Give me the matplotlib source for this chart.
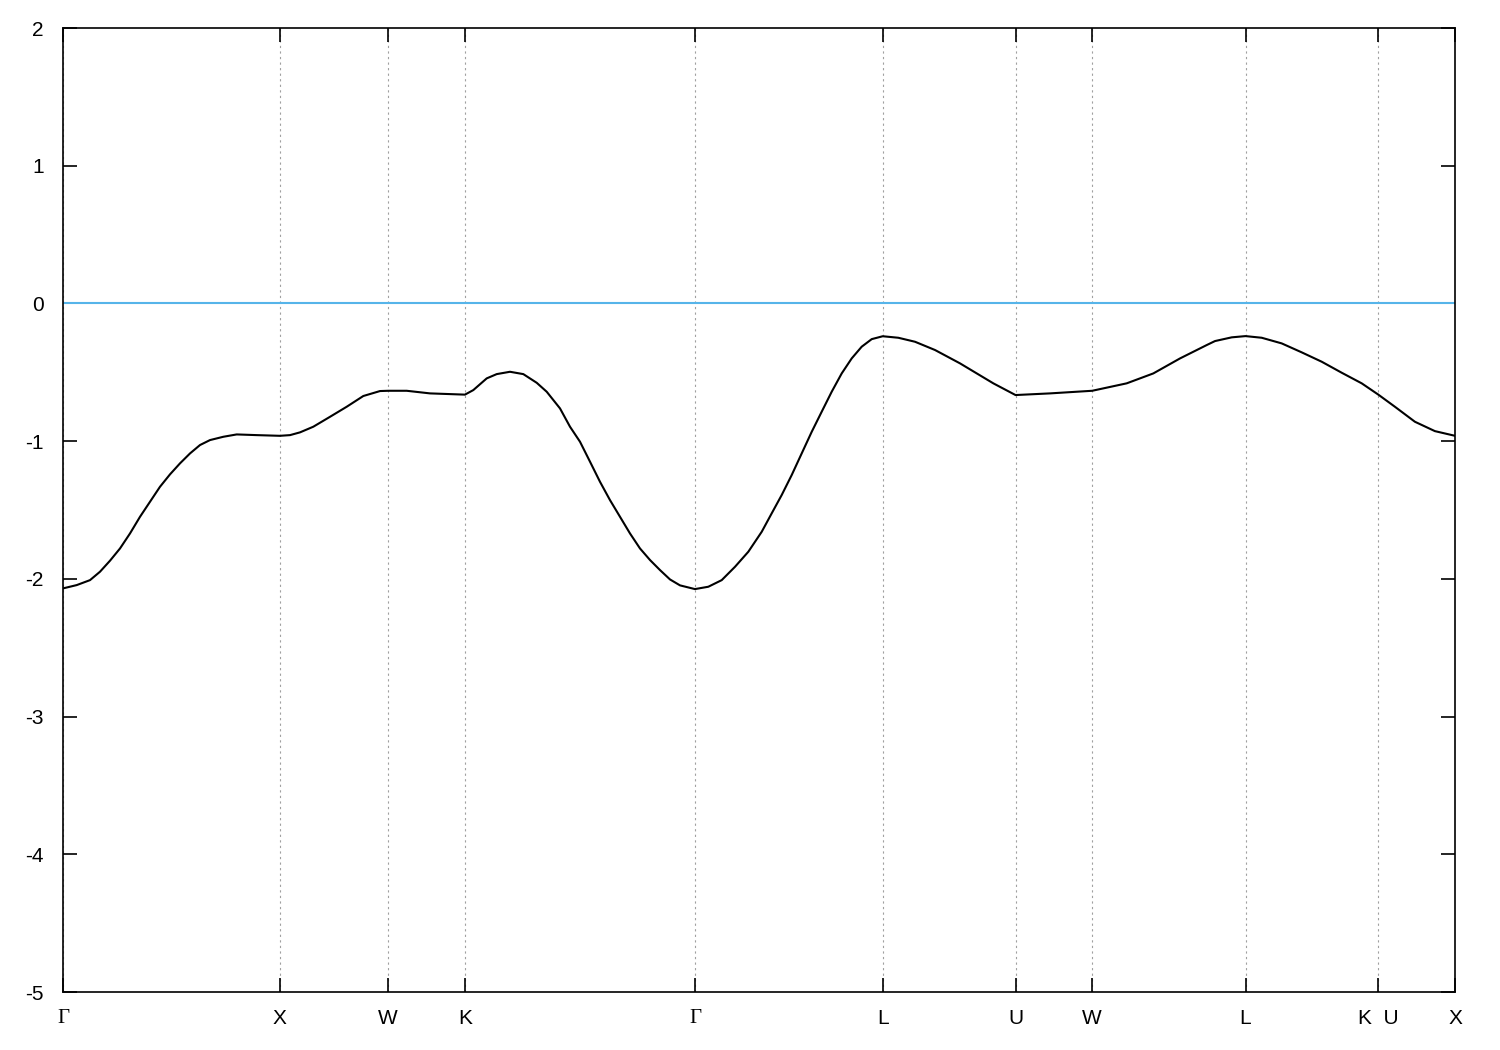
#!/usr/bin/env python3
# -*- coding: utf-8 -*-

import matplotlib
matplotlib.use('Agg')
import matplotlib.pyplot as plt

# -- DATA --
# high-symmetry points along the fcc path (path length units)
kpt_pos = [0.0, 1.0, 1.5, 1.8536, 2.9143, 3.7803, 4.3927,
           4.7463, 5.4534, 6.0658, 6.4194]
kpt_labels = ['Γ', 'X', 'W', 'K', 'Γ', 'L', 'U', 'W', 'L', 'K  U', 'X']

# band
k = [0.0, 0.0632, 0.1245, 0.1706, 0.2167, 0.2629, 0.309, 0.3551, 0.4012,
     0.4473, 0.4934, 0.5396, 0.5857, 0.6318, 0.6779, 0.7393, 0.801, 0.8933,
     1.0, 1.0469, 1.093, 1.1543, 1.2313, 1.3083, 1.3849, 1.4619, 1.5,
     1.585, 1.6925, 1.8536, 1.8922, 1.954, 2.0001, 2.0614, 2.1228, 2.1846,
     2.2307, 2.292, 2.3381, 2.3842, 2.4304, 2.4765, 2.5226, 2.5687, 2.6148,
     2.6609, 2.7071, 2.7532, 2.7993, 2.8454, 2.9143, 2.9759, 3.0377,
     3.0991, 3.1604, 3.2222, 3.2683, 3.3144, 3.3605, 3.4066, 3.4528,
     3.4989, 3.545, 3.5911, 3.6372, 3.6833, 3.7295, 3.7803, 3.8521, 3.9291,
     4.0214, 4.1367, 4.2903, 4.3927, 4.5517, 4.7463, 4.9054, 5.0281,
     5.1513, 5.2744, 5.3127, 5.3897, 5.4534, 5.528, 5.6203, 5.7125, 5.8047,
     5.897, 5.9892, 6.0658, 6.1423, 6.2346, 6.3268, 6.4194]
energy = [-2.069, -2.045, -2.009, -1.948, -1.868, -1.779, -1.670, -1.549,
          -1.440, -1.331, -1.241, -1.161, -1.089, -1.028, -0.992, -0.968,
          -0.951, -0.956, -0.961, -0.956, -0.936, -0.895, -0.823, -0.750,
          -0.672, -0.636, -0.634, -0.634, -0.653, -0.662, -0.629, -0.544,
          -0.513, -0.496, -0.513, -0.576, -0.641, -0.762, -0.895, -1.004,
          -1.149, -1.295, -1.428, -1.549, -1.670, -1.779, -1.863, -1.936,
          -2.004, -2.047, -2.074, -2.057, -2.009, -1.912, -1.803, -1.658,
          -1.524, -1.391, -1.246, -1.089, -0.932, -0.786, -0.641, -0.508,
          -0.399, -0.314, -0.259, -0.238, -0.249, -0.278, -0.338, -0.435,
          -0.580, -0.665, -0.653, -0.634, -0.580, -0.508, -0.399, -0.302,
          -0.273, -0.246, -0.237, -0.249, -0.290, -0.355, -0.423, -0.503,
          -0.580, -0.662, -0.750, -0.859, -0.927, -0.961]

fermi = 0.0
y_ticks = [-5, -4, -3, -2, -1, 0, 1, 2]

# -- PLOT --
plt.rcParams['font.family'] = ['Liberation Sans', 'DejaVu Sans']
plt.rcParams['axes.unicode_minus'] = False

fig = plt.figure(figsize=(15, 10.5), dpi=100)
ax = fig.add_axes([0.042, 0.0552, 0.928, 0.9181])

for x in kpt_pos:
    ax.axvline(x, color='#a0a0a0', linestyle=(0, (2, 3)), linewidth=0.8,
               zorder=1)

ax.axhline(fermi, color='#56b4e9', linewidth=1.5, zorder=2)
ax.plot(k, energy, color='black', linewidth=1.5, zorder=3,
        solid_joinstyle='round')

ax.set_xlim(kpt_pos[0], kpt_pos[-1])
ax.set_ylim(-5, 2)

ax.set_xticks(kpt_pos)
ax.set_xticklabels(kpt_labels)
for lbl in ax.get_xticklabels():
    if lbl.get_text() == 'Γ':
        lbl.set_family(['Liberation Serif', 'DejaVu Serif'])
        lbl.set_fontsize(16)
ax.set_yticks(y_ticks)
ax.set_yticklabels([str(v) for v in y_ticks])

ax.tick_params(axis='both', direction='in', length=10, width=1.2,
               labelsize=15, top=True, right=True)
ax.tick_params(axis='x', pad=12)
ax.tick_params(axis='y', pad=14)

for spine in ax.spines.values():
    spine.set_linewidth(1.2)

plt.savefig('out.png', dpi=100)
